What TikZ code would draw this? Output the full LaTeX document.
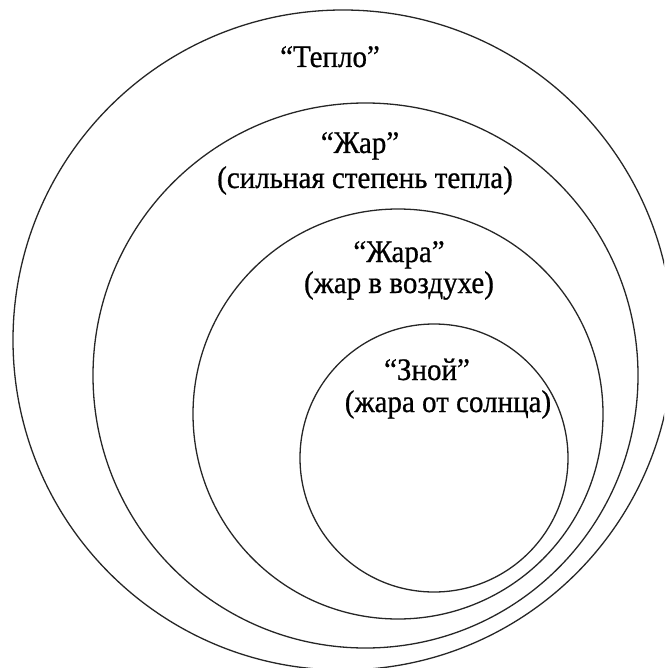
\documentclass[tikz,border=0pt]{standalone}
\usepackage{fontspec}
\setmainfont{Liberation Serif}
\newfontfamily\lblfont{Liberation Serif}[FakeBold=0.7]
\begin{document}
\begin{tikzpicture}[x=1pt,y=-1pt,
  ring/.style={draw=black!85, line width=1.3pt},
  lbl/.style={anchor=base, inner sep=0pt, yscale=1.08, transform shape,
    font=\lblfont\fontsize{29}{31}\selectfont}]
\useasboundingbox (0,0) rectangle (664,668);
\clip (0,0) rectangle (664,668);
\draw[ring] (343,340) circle[radius=330];
\draw[ring] (365.5,375.5) circle[radius=272.5];
\draw[ring] (398,414) circle[radius=205];
\draw[ring] (434,458) circle[radius=134];
\node[lbl] (teplo) at (330,67) {“Тепло”};
\node[lbl] (zhar) at (360,153) {“Жар”};
\node[lbl] (zhard) at (365,188) {(сильная степень тепла)};
\node[lbl] (zhara) at (399,262) {“Жара”};
\node[lbl] (zharad) at (399,293) {(жар в воздухе)};
\node[lbl] (znoy) at (427,380) {“Зной”};
\node[lbl] (znoyd) at (448,412) {(жара от солнца)};
\end{tikzpicture}
\end{document}
